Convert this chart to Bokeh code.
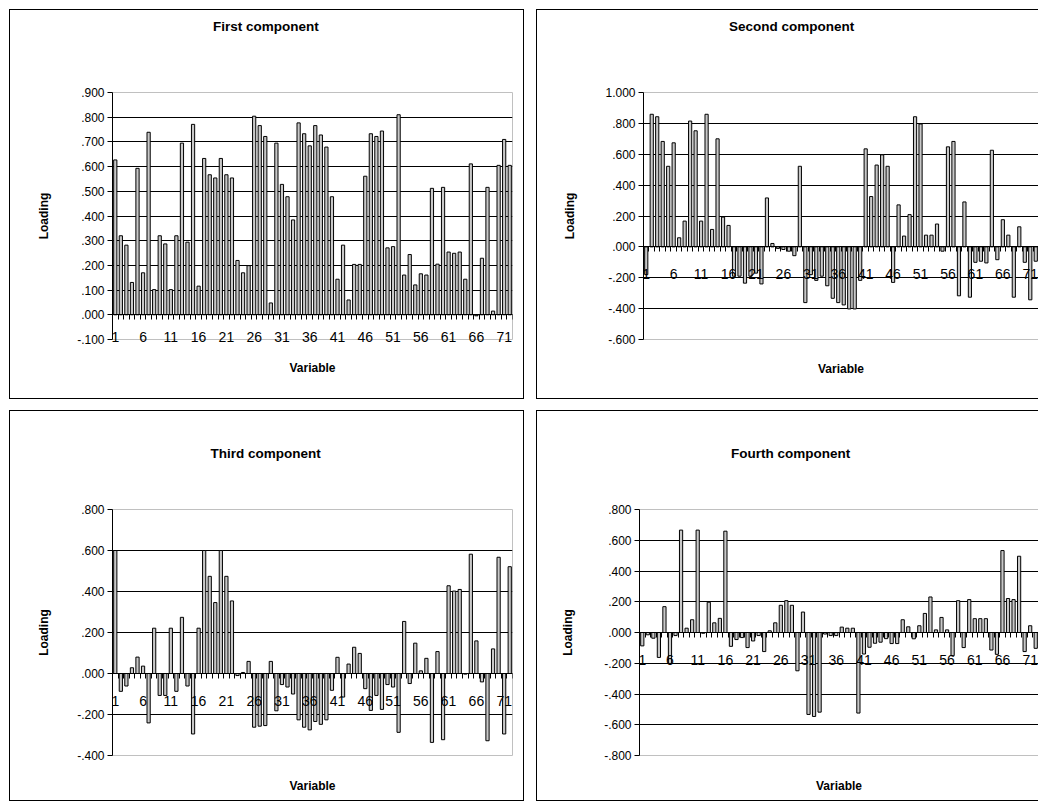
from bokeh.plotting import figure
from bokeh.models import FixedTicker, Range1d, Title, Spacer, LinearAxis
from bokeh.layouts import row, column
from bokeh.embed import file_html
from bokeh.resources import INLINE

variables = list(range(1, 73))

first = [
    .627, .320, .282, .131, .593, .170, .739, .102, .320, .287,
    .102, .320, .695, .294, .771, .116, .633, .567, .554, .633,
    .567, .554, .220, .170, .199, .804, .766, .722, .048, .695,
    .528, .478, .384, .777, .733, .684, .766, .728, .679, .478,
    .144, .282, .060, .204, .204, .561, .733, .722, .744, .271,
    .276, .810, .161, .244, .121, .166, .161, .512, .205, .516,
    .254, .249, .254, .144, .611, -.004, .229, .516, .015, .605,
    .710, .605]

second = [
    -.180, .859, .843, .683, .522, .674, .059, .167, .815, .752,
    .167, .859, .113, .700, .193, .139, -.190, -.190, -.235, -.190,
    -.170, -.240, .317, .022, -.010, -.017, -.028, -.057, .522, -.361,
    -.180, -.217, -.190, -.252, -.333, -.361, -.376, -.402, -.402, -.217,
    .635, .326, .530, .596, .522, -.230, .272, .070, .209, .843,
    .796, .076, .076, .148, -.028, .648, .683, -.317, .291, -.326,
    -.100, -.093, -.104, .626, -.083, .176, .076, -.326, .130, -.100,
    -.343, -.093]

third = [
    .600, -.087, -.061, .028, .080, .036, -.241, .221, -.107, -.107,
    .221, -.087, .274, -.061, -.295, .221, .600, .474, .346, .600,
    .474, .354, -.010, .005, .059, -.262, -.257, -.254, .059, -.182,
    -.054, -.066, -.100, -.226, -.262, -.275, -.234, -.248, -.226, -.082,
    .079, -.115, .046, .128, .098, -.074, -.180, -.107, -.175, -.054,
    -.066, -.287, .254, -.049, .148, .013, .074, -.336, .107, -.323,
    .428, .402, .410, -.003, .582, .159, -.041, -.328, .120, .567,
    -.295, .521]

fourth = [
    -.087, -.015, -.037, -.162, .168, -.201, -.020, .666, .028, .083,
    .666, -.005, .197, .063, .092, .659, -.090, -.046, -.033, -.098,
    -.055, -.020, -.124, .011, .063, .177, .207, .177, -.249, .133,
    -.533, -.546, -.518, -.010, -.020, -.020, .035, .028, .028, -.524,
    -.140, -.096, -.070, -.063, -.040, -.072, -.072, .083, .037, -.041,
    .044, .124, .231, .017, .098, .017, -.151, .207, -.098, .214,
    .090, .090, .090, -.114, -.142, .533, .221, .214, .496, -.124,
    .044, -.103]

x_ticks = [1, 6, 11, 16, 21, 26, 31, 36, 41, 46, 51, 56, 61, 66, 71]
x_tick_labels = ["1", "6", "11", "16", "21", "26", "31", "36", "41", "46", "51", "56", "61", "66", "71"]

first_ticks = [-0.1, 0.0, 0.1, 0.2, 0.3, 0.4, 0.5, 0.6, 0.7, 0.8, 0.9]
first_tick_labels = ["-.100", ".000", ".100", ".200", ".300", ".400", ".500", ".600", ".700", ".800", ".900"]
second_ticks = [-0.6, -0.4, -0.2, 0.0, 0.2, 0.4, 0.6, 0.8, 1.0]
second_tick_labels = ["-.600", "-.400", "-.200", ".000", ".200", ".400", ".600", ".800", "1.000"]
third_ticks = [-0.4, -0.2, 0.0, 0.2, 0.4, 0.6, 0.8]
third_tick_labels = ["-.400", "-.200", ".000", ".200", ".400", ".600", ".800"]
fourth_ticks = [-0.8, -0.6, -0.4, -0.2, 0.0, 0.2, 0.4, 0.6, 0.8]
fourth_tick_labels = ["-.800", "-.600", "-.400", "-.200", ".000", ".200", ".400", ".600", ".800"]

titles = ["First component", "Second component", "Third component", "Fourth component"]

FONT = "Liberation Sans"
boundaries = [v + 0.5 for v in [0] + variables]


def spacer_title(gap):
    # an invisible (white on white) one-pixel title used only to reserve space
    return Title(text=" ", text_font_size="1px", text_color="white", standoff=gap)


def style_x_labels(ax, standoff):
    ax.major_label_overrides = {t: l for t, l in zip(x_ticks, x_tick_labels)}
    ax.major_label_text_font = FONT
    ax.major_label_text_font_size = "14px"
    ax.major_label_text_color = "black"
    ax.major_label_standoff = standoff
    ax.major_tick_out = 0
    ax.major_tick_in = 0


def panel(title, values, ticks, tick_labels, width, height, left, right, top, bottom,
          title_offset, title_gap, var_gap, ylabel_standoff, labels_outside, right_edge):
    p = figure(width=width, height=height,
               x_range=Range1d(0.5, 72.5), y_range=Range1d(ticks[0], ticks[-1]),
               output_backend="svg", toolbar_location=None,
               min_border_left=left, min_border_right=right,
               min_border_top=top, min_border_bottom=bottom,
               background_fill_color="white", border_fill_color="white")
    st = {"border": "1px solid black", "box-sizing": "border-box"}
    if not right_edge:
        st["border-right"] = "none"
    p.styles = st
    p.outline_line_color = "#c0c0c0"

    # main title (left aligned + offset so it is centred on the whole box)
    p.add_layout(spacer_title(title_gap), "above")
    p.add_layout(Title(text=title, align="left", offset=title_offset, standoff=0,
                       vertical_align="bottom", text_font=FONT, text_font_size="13.5px",
                       text_font_style="bold", text_color="black"), "above")

    p.vbar(x=variables, top=values, bottom=0, width=0.58,
           fill_color="#c8c8c8", line_color="black", line_width=1)

    # y axis
    ya = p.yaxis[0]
    ya.ticker = FixedTicker(ticks=ticks, minor_ticks=[])
    ya.major_label_overrides = {t: l for t, l in zip(ticks, tick_labels)}
    ya.major_label_text_font = FONT
    ya.major_label_text_font_size = "12px"
    ya.major_label_text_color = "black"
    ya.major_tick_out = 5
    ya.major_tick_in = 0
    ya.minor_tick_out = 0
    ya.major_label_standoff = 3
    ya.axis_line_color = "black"
    ya.major_tick_line_color = "black"
    ya.axis_label = "Loading"
    ya.axis_label_text_font = FONT
    ya.axis_label_text_font_size = "12px"
    ya.axis_label_text_font_style = "bold"
    ya.axis_label_text_color = "black"
    ya.axis_label_standoff = ylabel_standoff

    xa = p.xaxis[0]
    if labels_outside:
        # labels hang below the plot area: a normal bottom axis carries only the labels,
        # a second axis at zero carries the line and the category ticks
        xa.ticker = FixedTicker(ticks=x_ticks, minor_ticks=[])
        style_x_labels(xa, -8)
        xa.axis_line_color = None
        xa.major_tick_line_color = None
        xa.minor_tick_line_color = None
        za = LinearAxis(fixed_location=0, ticker=FixedTicker(ticks=[], minor_ticks=boundaries),
                        axis_line_color="black", minor_tick_out=5, minor_tick_in=0,
                        minor_tick_line_color="black", major_tick_line_color=None)
    else:
        xa.fixed_location = 0
        xa.ticker = FixedTicker(ticks=x_ticks, minor_ticks=boundaries)
        style_x_labels(xa, 17)
        xa.minor_tick_out = 5
        xa.minor_tick_in = 0
        xa.minor_tick_line_color = "black"
        xa.axis_line_color = "black"
        za = None

    p.xgrid.visible = False
    p.ygrid.ticker = FixedTicker(ticks=ticks[1:-1], minor_ticks=[])
    p.ygrid.grid_line_color = "black"
    p.ygrid.grid_line_width = 1

    p.add_layout(spacer_title(var_gap), "below")
    p.add_layout(Title(text="Variable", align="center", standoff=0, vertical_align="top",
                       text_font=FONT, text_font_size="12px", text_font_style="bold",
                       text_color="black"), "below")
    if za is not None:
        p.add_layout(za, "below")
    return p


p1 = panel(titles[0], first, first_ticks, first_tick_labels, 515, 390, 102, 13, 82, 61,
           100.6, 56, 13, 23, True, True)
p2 = panel(titles[1], second, second_ticks, second_tick_labels, 502, 390, 106, 1, 82, 60,
           85.6, 56, 19, 25, False, False)
p3 = panel(titles[2], third, third_ticks, third_tick_labels, 515, 391, 102, 13, 98, 47,
           97.9, 46, 20, 23, False, True)
p4 = panel(titles[3], fourth, fourth_ticks, fourth_tick_labels, 502, 391, 102, 1, 98, 47,
           91.4, 46, 20, 26, False, False)

grid = column(row(p1, p2, spacing=12), row(p3, p4, spacing=12), spacing=11)
layout = column(Spacer(height=9), row(Spacer(width=9), grid))

open("out.html", "w").write(file_html(layout, INLINE))
